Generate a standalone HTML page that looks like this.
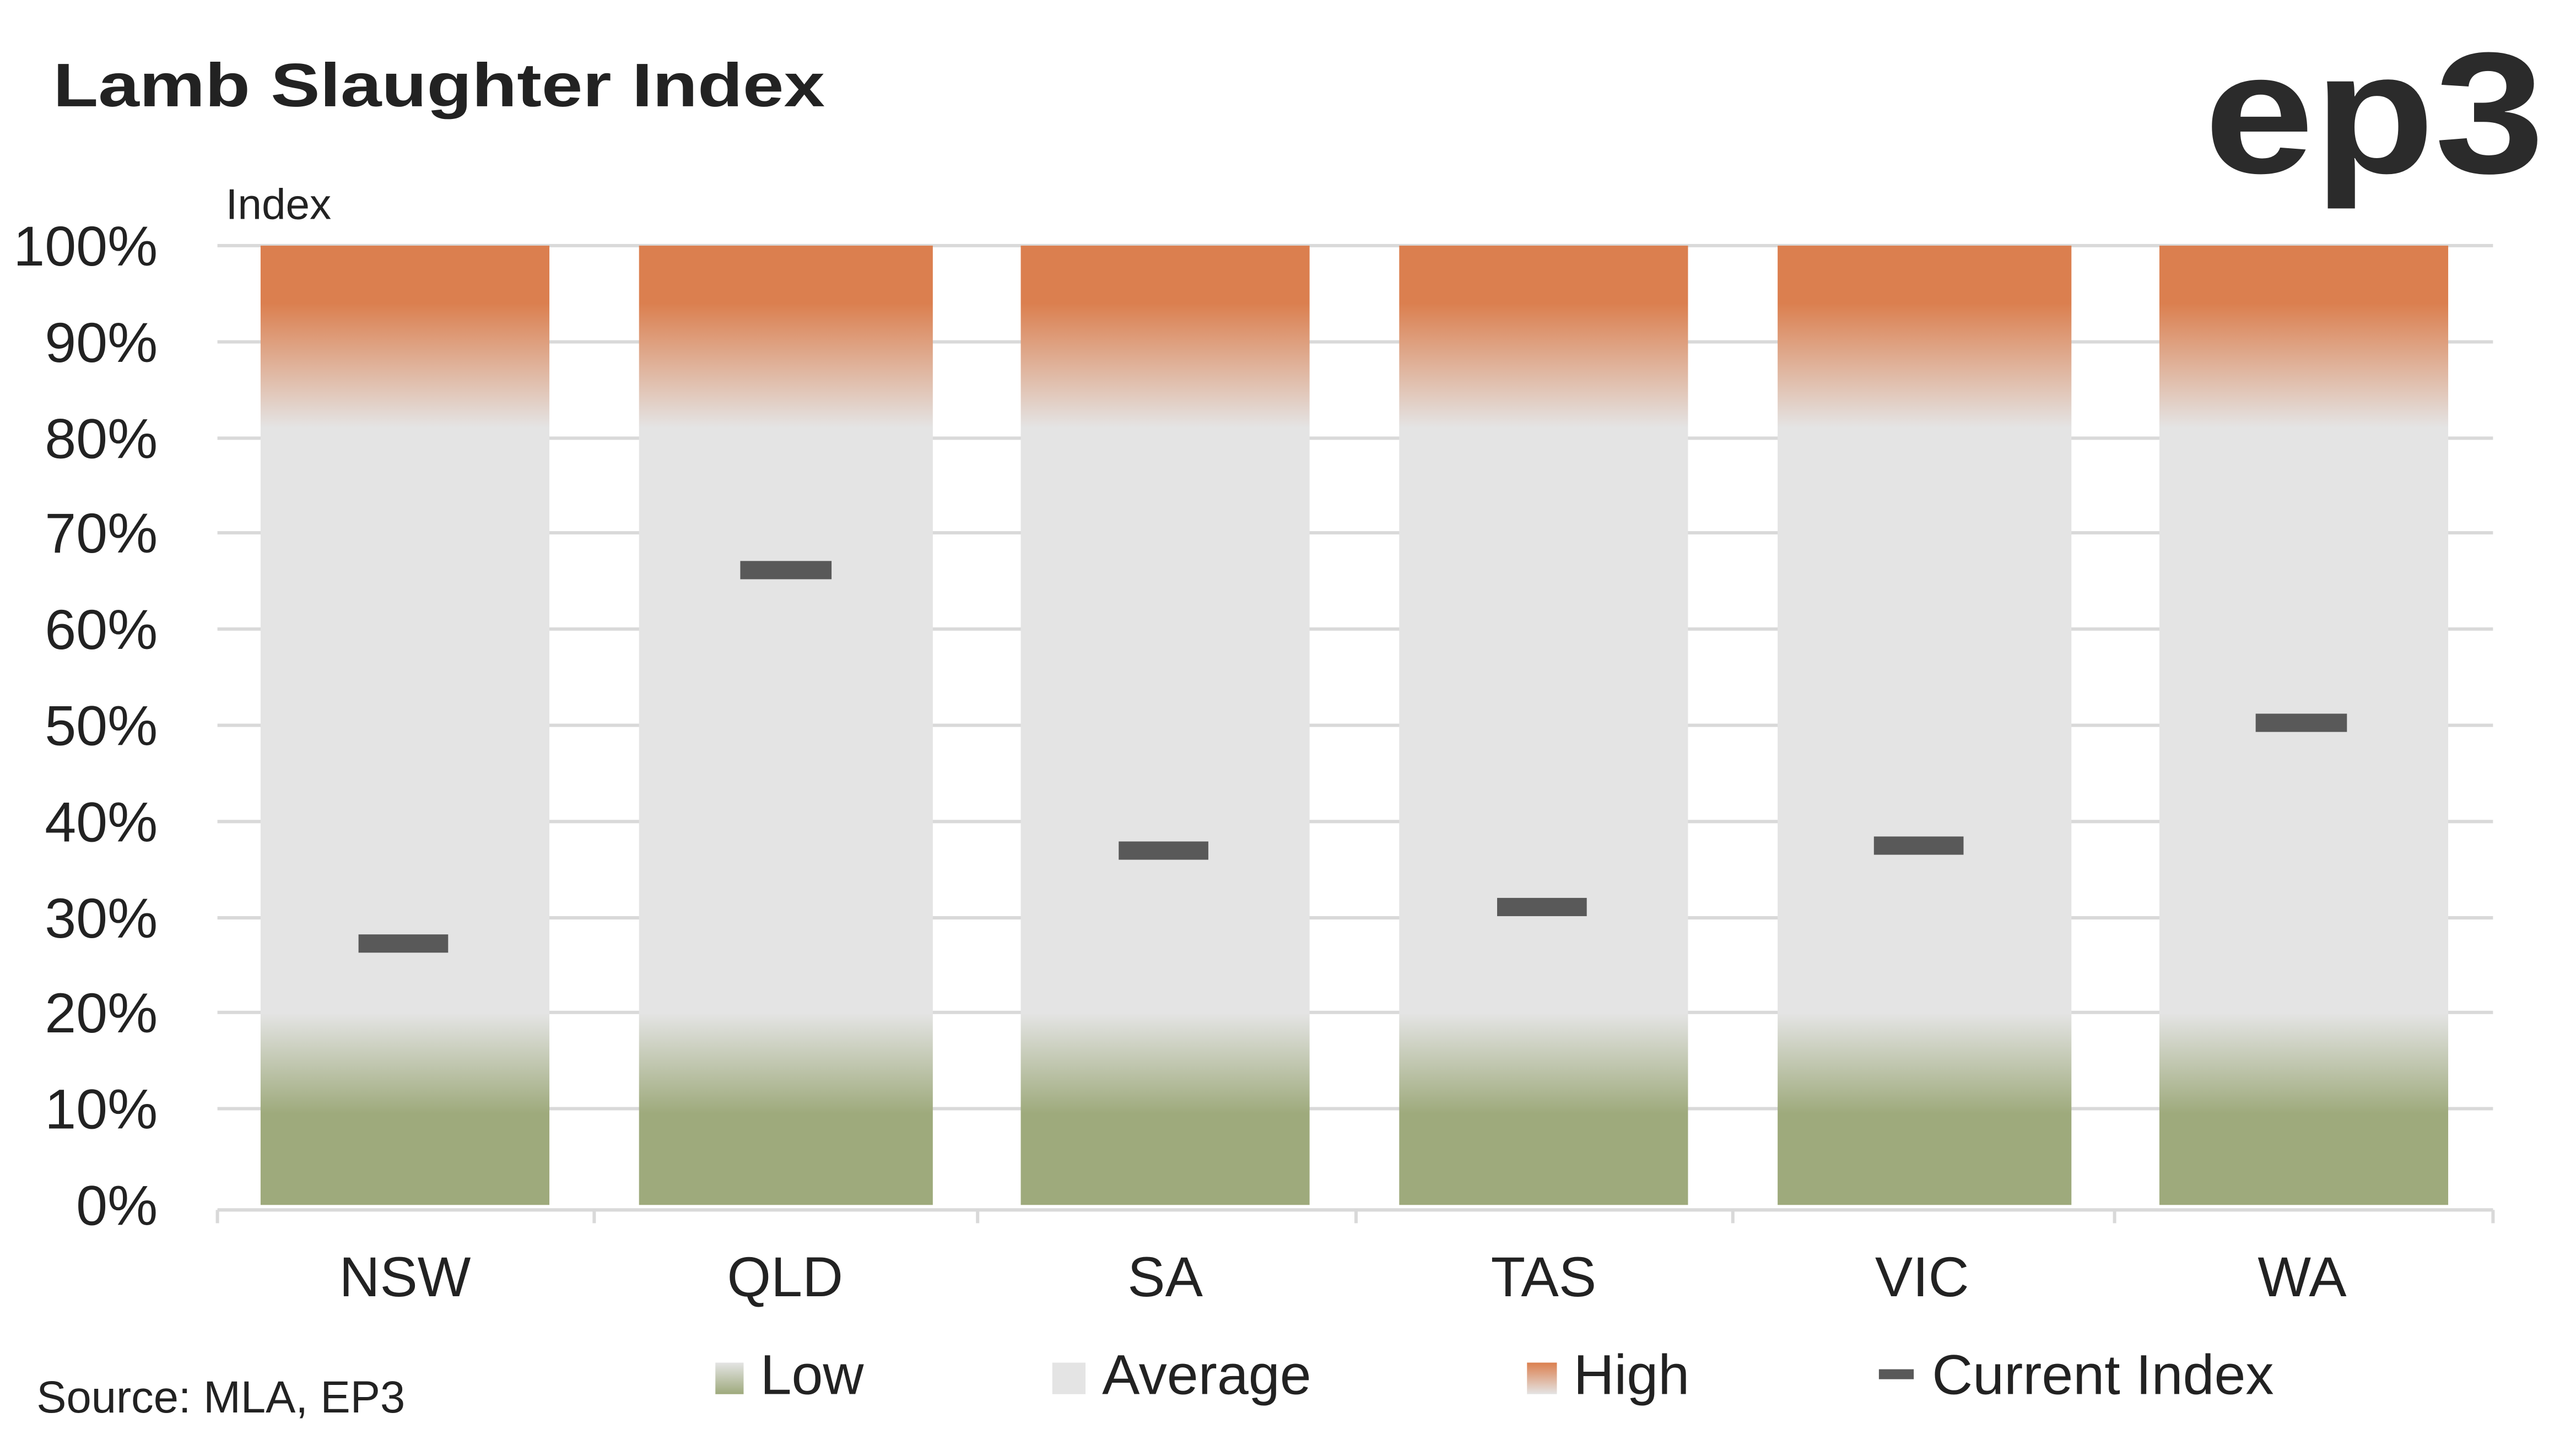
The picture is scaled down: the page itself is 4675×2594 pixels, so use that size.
<!DOCTYPE html>
<html><head><style>html,body{margin:0;padding:0;background:#fff}svg{display:block}</style></head><body>
<svg width="4675" height="2594" viewBox="0 0 1552 861" preserveAspectRatio="none" xmlns="http://www.w3.org/2000/svg" font-family="Liberation Sans, sans-serif">
<defs>
<linearGradient id="g" x1="0" y1="0" x2="0" y2="1">
<stop offset="0" stop-color="#DB7F4F"/>
<stop offset="0.06" stop-color="#DB7F4F"/>
<stop offset="0.19" stop-color="#E4E4E4"/>
<stop offset="0.80" stop-color="#E4E4E4"/>
<stop offset="0.905" stop-color="#9EAA7C"/>
<stop offset="1" stop-color="#9EAA7C"/>
</linearGradient>
<linearGradient id="lg" x1="0" y1="0" x2="0" y2="1"><stop offset="0" stop-color="#E4E4E4"/><stop offset="1" stop-color="#9EAA7C"/></linearGradient>
<linearGradient id="hg" x1="0" y1="0" x2="0" y2="1"><stop offset="0" stop-color="#DB7F4F"/><stop offset="1" stop-color="#E4E4E4"/></linearGradient>
</defs>
<text x="32" y="64" font-size="37" font-weight="bold" fill="#222" textLength="465" lengthAdjust="spacingAndGlyphs">Lamb Slaughter Index</text>
<text x="1328" y="104" font-size="104" font-weight="bold" fill="#2b2b2b" textLength="205" lengthAdjust="spacingAndGlyphs">ep3</text>
<text x="136" y="132" font-size="26" fill="#222">Index</text>
<g stroke="#d9d9d9" stroke-width="2">
<line x1="131" x2="1502" y1="148" y2="148"/><line x1="131" x2="1502" y1="206" y2="206"/><line x1="131" x2="1502" y1="264" y2="264"/><line x1="131" x2="1502" y1="321" y2="321"/><line x1="131" x2="1502" y1="379" y2="379"/><line x1="131" x2="1502" y1="437" y2="437"/><line x1="131" x2="1502" y1="495" y2="495"/><line x1="131" x2="1502" y1="553" y2="553"/><line x1="131" x2="1502" y1="610" y2="610"/><line x1="131" x2="1502" y1="668" y2="668"/>
</g>
<g fill="url(#g)">
<rect x="157" y="148" width="174" height="578"/><rect x="385" y="148" width="177" height="578"/><rect x="615" y="148" width="174" height="578"/><rect x="843" y="148" width="174" height="578"/><rect x="1071" y="148" width="177" height="578"/><rect x="1301" y="148" width="174" height="578"/>
</g>
<g stroke="#d9d9d9" stroke-width="2"><line x1="131" x2="1502" y1="729" y2="729"/>
<line x1="131" x2="131" y1="729" y2="737"/><line x1="358" x2="358" y1="729" y2="737"/><line x1="589" x2="589" y1="729" y2="737"/><line x1="817" x2="817" y1="729" y2="737"/><line x1="1044" x2="1044" y1="729" y2="737"/><line x1="1274" x2="1274" y1="729" y2="737"/><line x1="1502" x2="1502" y1="729" y2="737"/></g>
<g fill="#595959">
<rect x="216" y="563" width="54" height="11"/><rect x="446" y="338" width="55" height="11"/><rect x="674" y="507" width="54" height="11"/><rect x="902" y="541" width="54" height="11"/><rect x="1129" y="504" width="54" height="11"/><rect x="1359" y="430" width="55" height="11"/>
</g>
<g font-size="34" fill="#222" text-anchor="end">
<text x="95" y="160">100%</text><text x="95" y="218">90%</text><text x="95" y="276">80%</text><text x="95" y="333">70%</text><text x="95" y="391">60%</text><text x="95" y="449">50%</text><text x="95" y="507">40%</text><text x="95" y="565">30%</text><text x="95" y="622">20%</text><text x="95" y="680">10%</text><text x="95" y="738">0%</text>
</g>
<g font-size="34" fill="#222" text-anchor="middle">
<text x="244" y="781">NSW</text><text x="473" y="781">QLD</text><text x="702" y="781">SA</text><text x="930" y="781">TAS</text><text x="1158" y="781">VIC</text><text x="1387" y="781">WA</text>
</g>
<text x="22" y="851" font-size="27" fill="#222">Source: MLA, EP3</text>
<rect x="431" y="821" width="17" height="19" fill="url(#lg)"/>
<text x="458" y="840" font-size="34" fill="#222">Low</text>
<rect x="634" y="821" width="20" height="19" fill="#E4E4E4"/>
<text x="664" y="840" font-size="34" fill="#222">Average</text>
<rect x="920" y="821" width="18" height="19" fill="url(#hg)"/>
<text x="948" y="840" font-size="34" fill="#222">High</text>
<rect x="1132" y="825" width="21" height="6" fill="#595959"/>
<text x="1164" y="840" font-size="34" fill="#222">Current Index</text>
</svg>
</body></html>
